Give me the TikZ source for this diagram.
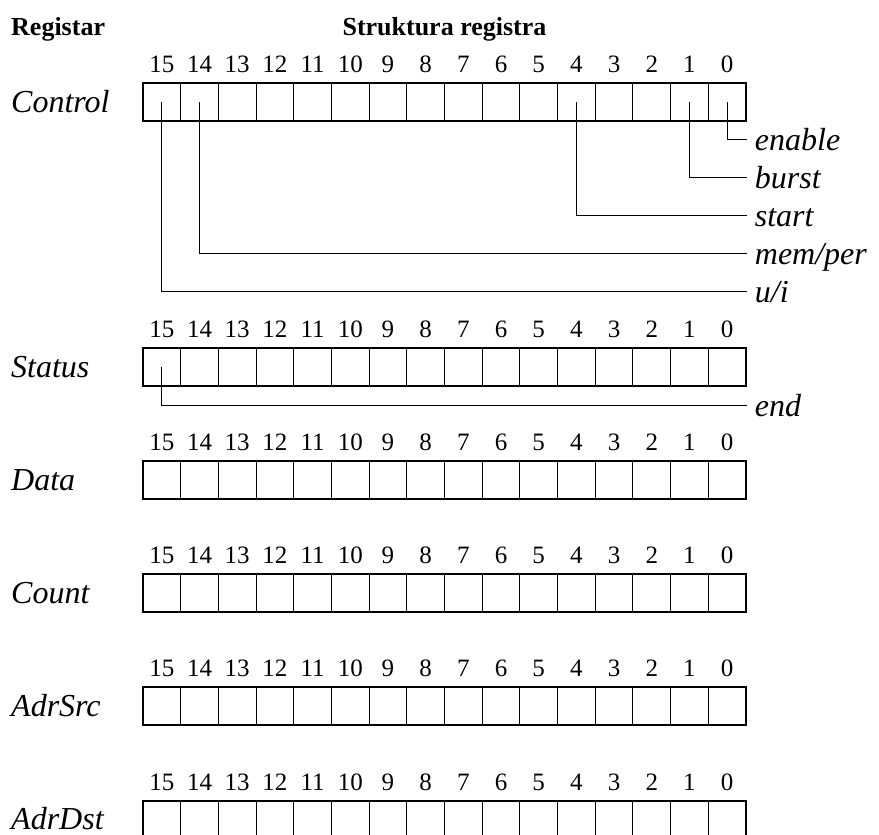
\documentclass[tikz,border=0pt]{standalone}
\usepackage{fontspec}
\setmainfont{Liberation Serif}
\newcommand\drawregister[3]{%
  \foreach \b in {0,...,15}{%
    \node[cell] (#1-\b) at ({143+(15-\b+0.5)*37.6875}, {#3+19}) {};
    \node[bitnum] (#1-n\b) at ({143+(15-\b+0.5)*37.6875}, {#3-10.5}) {\b};
  }
  \draw[frame] (#1-15.north west) rectangle (#1-0.south east);
  \node[regname] (#1-label) at (11, {#3+29}) {#2};
}
\begin{document}
\begin{tikzpicture}[x=1pt,y=-1pt,
  cell/.style={draw, line width=0.9pt, minimum width=37.6875pt, minimum height=38pt, inner sep=0pt, outer sep=0pt},
  frame/.style={draw, line width=1.8pt},
  bitnum/.style={anchor=base, inner sep=0pt, font=\fontsize{25}{28}\selectfont},
  regname/.style={anchor=base west, inner sep=0pt, font=\fontsize{32}{36}\selectfont\itshape},
  fieldname/.style={anchor=west, inner xsep=8pt, inner ysep=0pt, text height=22pt, text depth=0pt, font=\fontsize{32}{36}\selectfont\itshape},
  header/.style={inner sep=0pt, font=\fontsize{26}{30}\selectfont\bfseries},
  wire/.style={line width=0.9pt}
]
\useasboundingbox (0,0) rectangle (879,835);

\node[header, anchor=base west] (h1) at (11,35) {Registar};
\node[header, anchor=base] (h2) at (444.5,35) {Struktura registra};

\drawregister{ctl}{Control}{83.3}
\drawregister{sts}{Status}{348}
\drawregister{dat}{Data}{461}
\drawregister{cnt}{Count}{574}
\drawregister{src}{AdrSrc}{687}
\drawregister{dst}{AdrDst}{800.7}

\node[fieldname] (f-enable) at (746.7,139.3) {enable};
\node[fieldname] (f-burst) at (746.7,177.3) {burst};
\node[fieldname] (f-start) at (746.7,215.3) {start};
\node[fieldname] (f-memper) at (746.7,253.3) {mem/per};
\node[fieldname] (f-ui) at (746.7,291.3) {u/i};
\node[fieldname] (f-end) at (746.7,405) {end};

\draw[wire] (ctl-0.center) |- (f-enable.west);
\draw[wire] (ctl-1.center) |- (f-burst.west);
\draw[wire] (ctl-4.center) |- (f-start.west);
\draw[wire] (ctl-14.center) |- (f-memper.west);
\draw[wire] (ctl-15.center) |- (f-ui.west);
\draw[wire] (sts-15.center) |- (f-end.west);
\end{tikzpicture}
\end{document}
